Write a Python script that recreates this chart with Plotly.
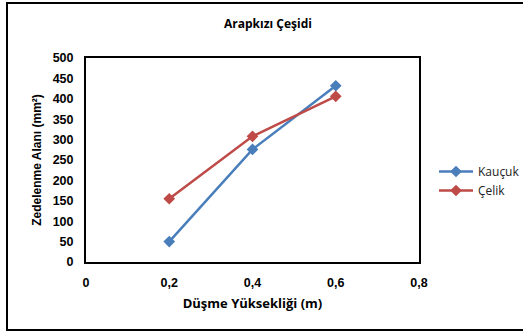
import plotly.graph_objects as go

heights = [0.2, 0.4, 0.6]
kaucuk = [50, 276, 432]
celik = [155, 308, 406]
x_ticks = [0, 0.2, 0.4, 0.6, 0.8]
x_tick_labels = ["0", "0,2", "0,4", "0,6", "0,8"]
y_ticks = list(range(0, 501, 50))

W, H = 523, 332
L, R, T, B = 86, 104, 58, 70
pw, ph = W - L - R, H - T - B

fig = go.Figure()
fig.add_trace(go.Scatter(
    x=heights, y=kaucuk, name="Kauçuk", mode="lines+markers",
    line=dict(color="#4a7ebb", width=2.5),
    marker=dict(symbol="diamond", size=9, color="#4a7ebb"),
))
fig.add_trace(go.Scatter(
    x=heights, y=celik, name="Çelik", mode="lines+markers",
    line=dict(color="#be4b48", width=2.5),
    marker=dict(symbol="diamond", size=9, color="#be4b48"),
))

def px(xp):
    return (xp - L) / pw

def py(yp):
    return (H - B - yp) / ph

fig.update_layout(
    width=W, height=H,
    margin=dict(l=L, r=R, t=T, b=B, autoexpand=False),
    paper_bgcolor="white", plot_bgcolor="white",
    separators=", ",
    showlegend=True,
    legend=dict(
        x=px(434), y=py(157), xanchor="left", yanchor="top",
        font=dict(family="Open Sans, Liberation Sans, Arial", size=12, color="#222"),
        itemwidth=34, tracegroupgap=5,
        bgcolor="rgba(0,0,0,0)",
    ),
    xaxis=dict(
        range=[0, 0.8], tickvals=x_ticks, ticktext=x_tick_labels,
        showgrid=False, zeroline=False, automargin=False,
        showline=True, linecolor="black", linewidth=2, mirror=True,
        ticks="", ticklen=0, ticklabelstandoff=8,
        tickfont=dict(family="Liberation Sans, Arial", size=12.5, color="black", weight="bold"),
        title=dict(text="Düşme Yüksekliği (m)", standoff=10,
                   font=dict(family="Open Sans, Liberation Sans", size=13, color="black", weight="bold")),
    ),
    yaxis=dict(
        range=[0, 500], tickvals=y_ticks,
        showgrid=False, zeroline=False, automargin=False,
        showline=True, linecolor="black", linewidth=2, mirror=True,
        ticks="", ticklen=0, ticklabelstandoff=8,
        tickfont=dict(family="Liberation Sans, Arial", size=12.5, color="black", weight="bold"),
        title=dict(text="Zedelenme Alanı (mm²)", standoff=8,
                   font=dict(family="Liberation Sans, Arial", size=12, color="black", weight="bold")),
    ),
    annotations=[dict(
        text="Arapkızı Çeşidi", xref="paper", yref="paper",
        x=px(268), y=py(24), xanchor="center", yanchor="middle", showarrow=False,
        font=dict(family="Open Sans, Liberation Sans", size=12, color="black", weight="bold"),
    )],
    shapes=[dict(
        type="rect", xref="paper", yref="paper",
        x0=px(7), x1=px(540), y0=py(330), y1=py(3),
        line=dict(color="black", width=2), layer="below",
    )],
)

fig.write_html("out.html")
